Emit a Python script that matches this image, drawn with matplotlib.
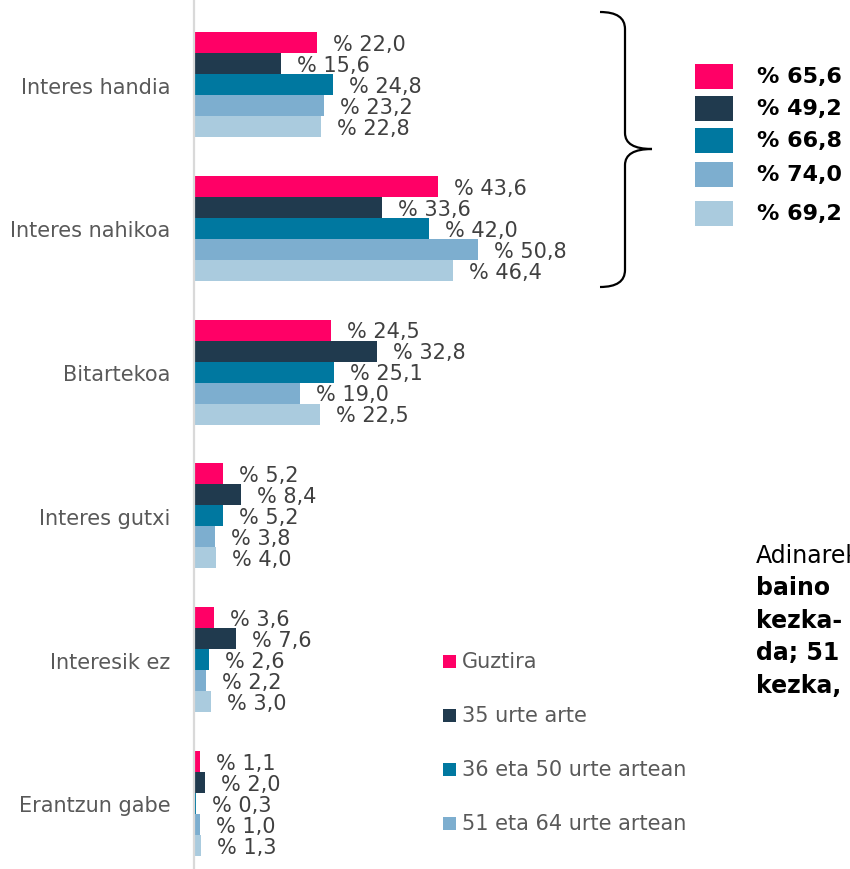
import matplotlib
matplotlib.use("Agg")
import numpy as np
from matplotlib import pyplot as plt
from matplotlib.path import Path
from matplotlib.patches import PathPatch, Rectangle

categories = ["Interes handia", "Interes nahikoa", "Bitartekoa",
              "Interes gutxi", "Interesik ez", "Erantzun gabe"]
series = ["Guztira", "35 urte arte", "36 eta 50 urte artean",
          "51 eta 64 urte artean", "65 urte eta gehiago"]
guztira = [22.0, 43.6, 24.5, 5.2, 3.6, 1.1]
urte_35 = [15.6, 33.6, 32.8, 8.4, 7.6, 2.0]
urte_36_50 = [24.8, 42.0, 25.1, 5.2, 2.6, 0.3]
urte_51_64 = [23.2, 50.8, 19.0, 3.8, 2.2, 1.0]
urte_65 = [22.8, 46.4, 22.5, 4.0, 3.0, 1.3]
totals = [65.6, 49.2, 66.8, 74.0, 69.2]  # handia + nahikoa
note_lines = ["Adinarekin", "baino", "kezka-", "da; 51", "kezka,"]

values = [guztira, urte_35, urte_36_50, urte_51_64, urte_65]
colours = ["#FF0066", "#203A4E", "#0078A0", "#7DAECF", "#AACBDE"]

plt.rcParams['font.family'] = ['DejaVu Sans']

W, H = 850, 870
fig = plt.figure(figsize=(W / 100, H / 100), dpi=100)

# main bar axes: x=0 sits at pixel 194, group centres at 85.5 ... 804.5 px
left_px = 194
px_per_unit = 5.59
group_px = 143.8
ax = fig.add_axes([left_px / W, 0, (W - left_px) / W, 1])
ax.set_xlim(0, (W - left_px) / px_per_unit)
ax.set_ylim(5 + (H - 804.5) / group_px, -85.5 / group_px)

bar_h = 21 / group_px
y = np.arange(len(categories))
for i, (vals, col) in enumerate(zip(values, colours)):
    pos = y + (i - 2) * bar_h
    ax.barh(pos, vals, height=bar_h, color=col, linewidth=0)
    for p, v in zip(pos, vals):
        ax.annotate("% " + f"{v:.1f}".replace(".", ","), (v, p),
                    xytext=(11.5, -1), textcoords="offset points",
                    ha="left", va="center", fontsize=15, color="#404040")

ax.set_yticks(y)
ax.set_yticklabels(categories, fontsize=15, color="#595959")
ax.tick_params(axis="y", length=0, pad=17)
ax.set_xticks([])
for s in ["top", "right", "bottom"]:
    ax.spines[s].set_visible(False)
ax.spines["left"].set_color("#D9D9D9")
ax.spines["left"].set_linewidth(1.6)
ax.patch.set_alpha(0)

# overlay in pixel coordinates for brace, totals, legend and note
ov = fig.add_axes([0, 0, 1, 1])
ov.set_xlim(0, W)
ov.set_ylim(H, 0)
ov.axis("off")
ov.patch.set_alpha(0)

verts = [(600, 13), (625, 13), (625, 30), (625, 134), (625, 150), (652, 150),
         (625, 150), (625, 166), (625, 271), (625, 288), (600, 288)]
codes = [Path.MOVETO, Path.CURVE3, Path.CURVE3, Path.LINETO, Path.CURVE3,
         Path.CURVE3, Path.CURVE3, Path.CURVE3, Path.LINETO, Path.CURVE3,
         Path.CURVE3]
ov.add_patch(PathPatch(Path(verts, codes), facecolor="none",
                       edgecolor="black", lw=1.6))

tot_y = [77, 109, 141, 175, 214]
for ty, t, col in zip(tot_y, totals, colours):
    ov.add_patch(Rectangle((695, ty - 12.5), 38, 25, color=col, lw=0))
    ov.text(757, ty, "% " + f"{t:.1f}".replace(".", ","), fontsize=16,
            fontweight="bold", va="center", ha="left", color="black")

# only the first four legend rows fit inside the figure
for k, (name, col) in enumerate(zip(series[:4], colours[:4])):
    ly = 662 + 54 * k
    ov.add_patch(Rectangle((443, ly - 6.5), 13, 13, color=col, lw=0))
    ov.text(462, ly, name, fontsize=15, va="center", ha="left", color="#595959")

# side note runs past the right edge, as in the original layout
for k, line in enumerate(note_lines):
    ov.text(756, 556 + 32.5 * k, line, fontsize=17, va="center", ha="left",
            color="black", fontweight="normal" if k == 0 else "bold")

fig.savefig("out.png", dpi=100)
